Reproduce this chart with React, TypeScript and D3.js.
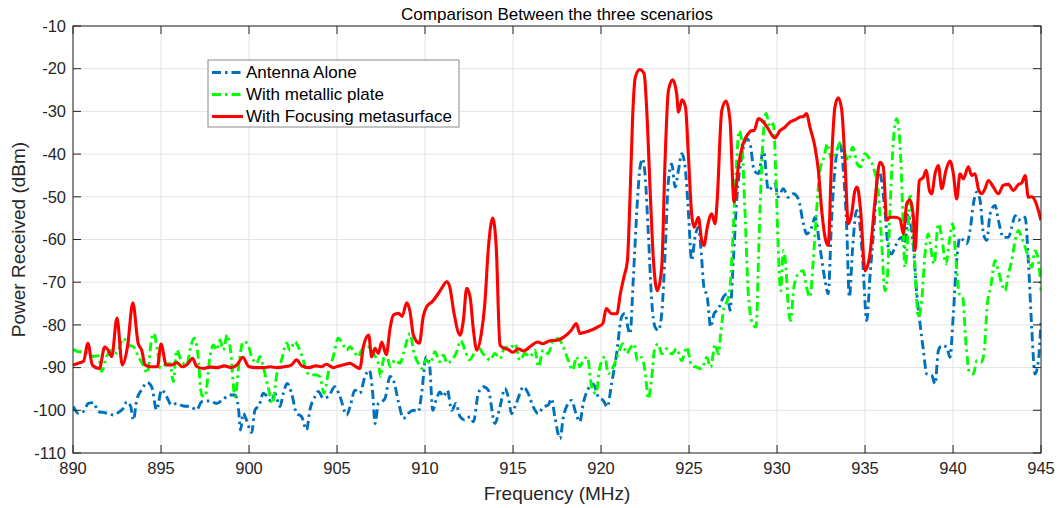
import React from "react";
import * as d3 from "d3";

const xTicks = [890, 895, 900, 905, 910, 915, 920, 925, 930, 935, 940, 945];
const yTicks = [-10, -20, -30, -40, -50, -60, -70, -80, -90, -100, -110];

const antennaAlone: [number, number][] = [[890.02,-99.1],[890.3,-100.7],[890.59,-100.3],[890.87,-98.4],[891.16,-98.2],[891.44,-100.3],[891.72,-100.5],[892.0,-100.7],[892.29,-101.1],[892.58,-100.5],[892.86,-99.5],[893.05,-98],[893.28,-99.1],[893.43,-102.3],[893.62,-97.6],[893.9,-95.2],[894.22,-93.5],[894.47,-94.5],[894.75,-99.9],[895.04,-95.2],[895.32,-96.8],[895.6,-98.8],[895.89,-98.4],[896.27,-99],[896.65,-99.1],[897.03,-99.9],[897.31,-98],[897.78,-97.8],[898.16,-98.4],[898.54,-97.4],[898.92,-96.4],[899.2,-96.4],[899.39,-99.1],[899.52,-104.6],[899.67,-100.7],[899.86,-102.3],[900.15,-105.2],[900.34,-99.9],[900.58,-98.8],[900.81,-96],[901.04,-96.8],[901.28,-98],[901.47,-96],[901.76,-99.1],[901.95,-96],[902.17,-93.7],[902.42,-96],[902.7,-100.7],[902.99,-101.5],[903.27,-104.6],[903.46,-99.9],[903.75,-96.8],[903.94,-95.6],[904.22,-97.2],[904.5,-96.8],[904.88,-94.5],[905.17,-96.8],[905.55,-101.1],[905.74,-99.2],[906.02,-95.3],[906.3,-96],[906.59,-92.1],[906.84,-90.6],[907.03,-96],[907.16,-103.1],[907.35,-98.4],[907.54,-98],[907.73,-97.2],[908.01,-92.1],[908.2,-92.9],[908.49,-98],[908.77,-101.9],[909.05,-100.7],[909.34,-100],[909.62,-100.3],[909.81,-96],[910.06,-87.5],[910.25,-89],[910.44,-100],[910.63,-97.6],[910.85,-95.7],[911.04,-96.8],[911.27,-95.3],[911.52,-100],[911.76,-98.4],[911.99,-101.5],[912.27,-102.3],[912.56,-101.5],[912.75,-102.7],[913.03,-96],[913.32,-94.5],[913.6,-95.3],[913.97,-103.1],[914.26,-99.2],[914.54,-94.9],[914.73,-96.9],[914.92,-100.8],[915.11,-99.2],[915.39,-96.1],[915.58,-94.5],[915.87,-96.1],[916.15,-99.2],[916.44,-100.8],[916.72,-99.2],[917.0,-98.8],[917.19,-97.3],[917.38,-101.6],[917.67,-106.6],[917.86,-101.6],[918.08,-98.8],[918.33,-97.7],[918.58,-100.8],[918.8,-102.7],[918.99,-98.4],[919.28,-94.9],[919.56,-93.8],[919.85,-96.9],[920.13,-97.7],[920.36,-99.2],[920.6,-93.8],[920.89,-86.7],[921.17,-78.1],[921.36,-77.3],[921.55,-81],[921.65,-82.1],[921.84,-68.8],[922.07,-50.9],[922.22,-43],[922.37,-41.1],[922.5,-44.6],[922.69,-58.7],[922.88,-74.3],[923.07,-80.5],[923.26,-81.3],[923.45,-77.4],[923.64,-63.4],[923.83,-46.2],[924.02,-42.3],[924.21,-47.7],[924.4,-43.8],[924.59,-39.9],[924.78,-43],[924.96,-53.2],[925.15,-64.9],[925.34,-59.5],[925.53,-57.1],[925.67,-61.8],[925.85,-71.2],[926.04,-73.5],[926.23,-80.5],[926.42,-77.4],[926.67,-76.3],[926.95,-73.5],[927.18,-72.7],[927.33,-76.6],[927.52,-64.9],[927.71,-50.9],[927.99,-40.7],[928.28,-36.4],[928.47,-37.6],[928.7,-43.8],[928.94,-44.6],[929.23,-39.1],[929.51,-48.5],[929.88,-47],[930.07,-50],[930.36,-48.1],[930.64,-50.1],[930.93,-49.3],[931.21,-50.5],[931.5,-56.3],[931.68,-58.7],[931.97,-57.1],[932.16,-54.8],[932.44,-61.8],[932.73,-69.6],[932.91,-72.7],[933.1,-55.5],[933.39,-39.9],[933.58,-37.6],[933.77,-43.8],[933.96,-57.1],[934.11,-73.5],[934.3,-61.8],[934.52,-53.2],[934.68,-55.5],[934.87,-64.9],[935.1,-79],[935.28,-68.8],[935.51,-57.1],[935.76,-43.8],[935.94,-46.2],[936.13,-53.2],[936.32,-61.8],[936.51,-63.4],[936.7,-61.8],[936.89,-60.2],[937.08,-59.5],[937.27,-61.8],[937.45,-54],[937.56,-55.5],[937.75,-61.8],[937.94,-72.7],[938.13,-79.8],[938.32,-86],[938.51,-91.5],[938.79,-91.8],[938.98,-93.8],[939.17,-86],[939.36,-84.8],[939.64,-85.2],[939.83,-87.6],[940.02,-77.4],[940.21,-64.9],[940.4,-59.5],[940.59,-60.2],[940.78,-61],[940.97,-57.9],[941.16,-51.6],[941.35,-48.9],[941.54,-50.9],[941.73,-58.7],[941.92,-60.2],[942.11,-54],[942.39,-52],[942.58,-55.5],[942.86,-59.5],[943.15,-59.5],[943.34,-57.1],[943.53,-54.4],[943.72,-55.5],[943.9,-54.8],[944.1,-54.8],[944.28,-64.9],[944.47,-80.5],[944.66,-91.5],[944.85,-88.4],[945.0,-79]];

const metallicPlate: [number, number][] = [[890.02,-85.7],[890.3,-86.3],[890.59,-86.3],[890.87,-86.6],[891.16,-87.4],[891.44,-87.2],[891.63,-90.9],[891.91,-87.4],[892.2,-85.9],[892.48,-86.6],[892.86,-83.1],[893.14,-84.7],[893.43,-85.1],[893.71,-87.4],[893.99,-89.4],[894.22,-91.3],[894.47,-83.1],[894.6,-82],[894.79,-85.9],[894.98,-90.2],[895.23,-89.4],[895.51,-89],[895.7,-93.3],[895.89,-85.9],[896.17,-88.6],[896.46,-89.4],[896.69,-85.1],[896.88,-83.1],[897.07,-85.9],[897.31,-96.4],[897.5,-96.8],[897.78,-87.6],[897.97,-84.7],[898.16,-85.9],[898.35,-83.5],[898.54,-85.9],[898.76,-82.3],[898.95,-85.9],[899.2,-96.8],[899.48,-87.4],[899.67,-83.9],[899.9,-84.3],[900.15,-87.4],[900.43,-89],[900.62,-87.4],[900.81,-89.8],[901.1,-94.8],[901.34,-98.4],[901.57,-91.8],[901.85,-88.2],[902.14,-84.3],[902.33,-85.9],[902.61,-83.9],[902.8,-85.1],[903.08,-88.2],[903.27,-90.9],[903.46,-91.7],[903.75,-91.7],[904.03,-92.1],[904.26,-96],[904.5,-91.3],[904.79,-87.4],[905.07,-83.1],[905.26,-83.9],[905.55,-85.9],[905.74,-85.1],[905.97,-86.3],[906.21,-87.5],[906.4,-85.9],[906.65,-85.5],[906.88,-85.1],[907.07,-86.7],[907.35,-89],[907.48,-92.1],[907.63,-88.2],[907.82,-86.7],[908.01,-89.8],[908.3,-88.2],[908.58,-89],[908.87,-85.1],[909.15,-82],[909.38,-86.7],[909.62,-89],[909.81,-90.2],[910.06,-88.2],[910.29,-89],[910.57,-86.3],[910.82,-88.6],[911.04,-87.1],[911.27,-89],[911.52,-88.2],[911.76,-86.7],[912.03,-83.7],[912.27,-85.9],[912.52,-88.2],[912.79,-86.7],[913.03,-85.1],[913.28,-86.7],[913.5,-87.5],[913.69,-88.3],[913.97,-86.7],[914.26,-87.9],[914.54,-85.2],[914.83,-85.5],[915.11,-84.4],[915.39,-88.3],[915.68,-86.7],[915.96,-87.5],[916.25,-85.9],[916.44,-89.8],[916.72,-85.9],[917.0,-86.7],[917.29,-83.6],[917.57,-83.2],[917.86,-85.2],[918.14,-88.3],[918.39,-90.6],[918.61,-87.5],[918.8,-89.8],[918.99,-88.3],[919.22,-87.5],[919.47,-94.5],[919.71,-96.1],[919.94,-89.8],[920.22,-87.5],[920.41,-91.4],[920.7,-89.8],[920.98,-86.7],[921.23,-84.4],[921.46,-86.7],[921.65,-85.5],[921.88,-84.5],[922.07,-88.4],[922.31,-87.6],[922.5,-90.7],[922.69,-97.3],[922.88,-92.3],[923.07,-85.2],[923.26,-84.5],[923.45,-86.8],[923.73,-85.6],[924.02,-86.8],[924.3,-85.6],[924.59,-88.4],[924.87,-85.2],[925.15,-89.5],[925.44,-89.9],[925.72,-90.3],[926.01,-87.6],[926.23,-89.9],[926.48,-84.5],[926.67,-86.8],[926.8,-82.1],[926.99,-75.9],[927.18,-74.3],[927.33,-71.2],[927.52,-57.1],[927.71,-41.5],[927.84,-34.5],[927.99,-36.8],[928.18,-53.2],[928.37,-72.7],[928.62,-79.8],[928.81,-80.5],[929.0,-57.1],[929.19,-37.6],[929.38,-30.5],[929.6,-33.7],[929.79,-32.9],[929.94,-45.4],[930.07,-61.8],[930.21,-72],[930.36,-62.6],[930.51,-66.5],[930.64,-75.9],[930.77,-79],[930.96,-71.2],[931.21,-68],[931.49,-67.3],[931.68,-71.2],[931.87,-73.5],[932.06,-64.9],[932.25,-53.2],[932.44,-43.8],[932.67,-40.7],[932.86,-37.6],[933.1,-41.5],[933.39,-39.1],[933.62,-37.2],[933.86,-39.9],[934.05,-41.5],[934.3,-38.4],[934.56,-42.3],[934.75,-43],[935.0,-39.9],[935.19,-40.7],[935.47,-43],[935.76,-49.3],[935.94,-60.2],[936.13,-72],[936.27,-68.8],[936.42,-53.2],[936.6,-37.6],[936.8,-31.7],[936.99,-37.6],[937.14,-53.2],[937.27,-66.5],[937.46,-57.1],[937.56,-49.3],[937.71,-55.5],[937.84,-66.5],[938.03,-78.2],[938.22,-74.3],[938.41,-63.4],[938.6,-58.7],[938.73,-61.8],[938.92,-65.7],[939.17,-56.3],[939.36,-59.5],[939.6,-65.7],[939.8,-60.2],[939.98,-56.3],[940.17,-64.9],[940.36,-72.7],[940.55,-73.5],[940.74,-84.5],[940.93,-91.1],[941.16,-91.5],[941.35,-88.4],[941.58,-88.8],[941.76,-86.8],[941.95,-75.1],[942.14,-71.2],[942.39,-64.9],[942.58,-67.3],[942.77,-70.4],[942.96,-72],[943.15,-68],[943.34,-64.9],[943.53,-60.2],[943.72,-57.9],[943.9,-59.5],[944.1,-61.8],[944.28,-64.1],[944.47,-66.5],[944.66,-62.6],[944.85,-64.9],[945.0,-72]];

const focusingMetasurface: [number, number][] = [[890.0,-89.4],[890.3,-89],[890.6,-88.5],[890.85,-84.3],[891.1,-89.4],[891.5,-90.2],[891.8,-85.2],[892.0,-85.9],[892.2,-87.4],[892.5,-78.4],[892.8,-89.4],[893.1,-85],[893.4,-74.8],[893.7,-84.3],[893.9,-85.9],[894.1,-89.4],[894.4,-89.8],[894.8,-89.8],[895.0,-84.5],[895.3,-89.4],[895.6,-89.4],[895.9,-88.8],[896.2,-89.8],[896.5,-89.2],[896.8,-87.8],[897.0,-89.6],[897.4,-90.2],[897.8,-89.9],[898.2,-90],[898.6,-89.6],[899.0,-90],[899.3,-89.4],[899.65,-87.6],[900.0,-89.8],[900.4,-90],[900.8,-90],[901.2,-89.8],[901.6,-90],[902.0,-89.8],[902.4,-89.4],[902.7,-88.2],[903.0,-89.6],[903.4,-90],[903.8,-89.6],[904.1,-89.8],[904.4,-89.2],[904.8,-90],[905.1,-89.6],[905.5,-89.2],[905.74,-89],[906.0,-89.6],[906.3,-90.2],[906.5,-85.1],[906.8,-82.4],[906.97,-87.5],[907.16,-85.5],[907.35,-86.7],[907.54,-84],[907.8,-87],[908.0,-81.2],[908.2,-77.7],[908.5,-77.3],[908.7,-78],[908.96,-74.8],[909.15,-76.9],[909.34,-82.4],[909.68,-84.3],[909.9,-78],[910.1,-75.7],[910.4,-74.6],[910.7,-73],[910.95,-71.4],[911.23,-69.9],[911.4,-71],[911.65,-77.3],[911.99,-82.4],[912.18,-78.9],[912.37,-71.4],[912.56,-73.4],[912.75,-81.2],[912.94,-85.9],[913.2,-82],[913.4,-75],[913.6,-62],[913.85,-55],[914.05,-62],[914.26,-84.7],[914.5,-85.5],[914.7,-85.7],[915.0,-86.4],[915.3,-85.6],[915.6,-86.1],[916.0,-85],[916.4,-84],[916.7,-84.4],[917.1,-83.7],[917.5,-83.6],[917.9,-82.8],[918.3,-81.3],[918.6,-79.7],[918.8,-82],[919.1,-81.7],[919.4,-81.3],[919.8,-80.5],[920.1,-79.7],[920.3,-76.2],[920.6,-77.4],[920.9,-77.4],[921.1,-72.7],[921.3,-68.8],[921.5,-65],[921.65,-50],[921.8,-31],[921.95,-22],[922.2,-20.2],[922.45,-21.2],[922.6,-29.8],[922.8,-49.3],[922.98,-64.9],[923.2,-72],[923.45,-66.5],[923.64,-41.5],[923.83,-25.1],[924.07,-22.6],[924.3,-25.9],[924.4,-30.2],[924.6,-27.3],[924.8,-29],[924.96,-39.9],[925.15,-54],[925.29,-57.1],[925.53,-54.8],[925.72,-60.2],[925.85,-61.4],[926.04,-57.1],[926.29,-54],[926.48,-56.3],[926.6,-50.9],[926.86,-29.8],[927.1,-27.6],[927.33,-32.1],[927.56,-51.2],[927.8,-43],[928.09,-37.4],[928.37,-35.2],[928.56,-34.5],[928.7,-34.5],[928.94,-31.7],[929.23,-32.5],[929.5,-34.1],[929.88,-36.2],[930.17,-34.5],[930.45,-33.7],[930.74,-32.5],[931.02,-32],[931.3,-31.3],[931.5,-31.2],[931.68,-30.5],[931.87,-33.7],[932.16,-38.4],[932.35,-43.8],[932.54,-53.2],[932.73,-59.5],[932.91,-61.4],[933.1,-41.5],[933.29,-29],[933.48,-26.8],[933.67,-29.4],[933.86,-41.5],[934.05,-56.3],[934.24,-54],[934.43,-48.5],[934.56,-47.7],[934.75,-53.2],[935.0,-67.3],[935.28,-63.4],[935.57,-50.9],[935.85,-41.9],[936.04,-43],[936.23,-55.5],[936.42,-54.8],[936.7,-54.8],[936.99,-55.2],[937.18,-58.7],[937.37,-51.6],[937.55,-50.7],[937.75,-54.8],[937.84,-62.6],[937.98,-53.2],[938.09,-46.2],[938.32,-45.4],[938.47,-43.8],[938.66,-48.5],[938.79,-49.3],[938.98,-44.6],[939.17,-42.7],[939.36,-48.1],[939.6,-43.8],[939.83,-41.6],[940.02,-44.6],[940.21,-50.5],[940.4,-44.6],[940.59,-45.8],[940.87,-43],[941.06,-45],[941.25,-44.6],[941.44,-48.1],[941.63,-49.3],[941.82,-48.1],[942.01,-46.2],[942.29,-47.7],[942.58,-49.3],[942.86,-47.3],[943.15,-47.1],[943.43,-48.5],[943.72,-47.1],[943.9,-46.8],[944.1,-45],[944.28,-50.1],[944.47,-50],[944.66,-50.9],[944.85,-53.2],[945.0,-55.5]];

const seriesNames = ["Antenna Alone", "With metallic plate", "With Focusing metasurface"];
const seriesColors = ["#0072BD", "#00FF00", "#FF0000"];

export default function App() {
  const W = 1061, H = 508;
  const L = 73, R = 1041, T = 26, B = 453;
  const x = d3.scaleLinear().domain([890, 945]).range([L, R]);
  const y = d3.scaleLinear().domain([-110, -10]).range([B, T]);
  const line = d3.line<[number, number]>().x(d => x(d[0])).y(d => y(d[1])).curve(d3.curveMonotoneX);
  const font = "'Liberation Sans', Arial, Helvetica, sans-serif";
  const axisColor = "#262626";
  const gridColor = "#e3e3e3";
  const tickLen = 8;
  const data = [antennaAlone, metallicPlate, focusingMetasurface];
  const dashes = ["9,4,2.5,4", "9,4,2.5,4", ""];
  const widths = [2.9, 2.9, 3.1];

  return (
    <svg width={W} height={H} style={{ position: "absolute", left: 0, top: 0, background: "#fff" }}>
      <defs>
        <clipPath id="plotclip">
          <rect x={L} y={T} width={R - L} height={B - T} />
        </clipPath>
      </defs>
      <rect x={0} y={0} width={W} height={H} fill="#fff" />
      {xTicks.map(t => (
        <line key={"gx" + t} x1={x(t)} x2={x(t)} y1={T} y2={B} stroke={gridColor} strokeWidth={1} />
      ))}
      {yTicks.map(t => (
        <line key={"gy" + t} x1={L} x2={R} y1={y(t)} y2={y(t)} stroke={gridColor} strokeWidth={1} />
      ))}
      <g clipPath="url(#plotclip)">
        {data.map((d, i) => (
          <path key={i} d={line(d) || ""} fill="none" stroke={seriesColors[i]} strokeWidth={widths[i]}
            strokeDasharray={dashes[i] || undefined} strokeLinejoin="round" />
        ))}
      </g>
      <rect x={L} y={T} width={R - L} height={B - T} fill="none" stroke={axisColor} strokeWidth={1} />
      {xTicks.map(t => (
        <g key={"tx" + t}>
          <line x1={x(t)} x2={x(t)} y1={B} y2={B - tickLen} stroke={axisColor} />
          <line x1={x(t)} x2={x(t)} y1={T} y2={T + tickLen} stroke={axisColor} />
          <text x={x(t)} y={474} textAnchor="middle" fontFamily={font} fontSize={16.5} fill={axisColor}>{t}</text>
        </g>
      ))}
      {yTicks.map(t => (
        <g key={"ty" + t}>
          <line x1={L} x2={L + tickLen} y1={y(t)} y2={y(t)} stroke={axisColor} />
          <line x1={R} x2={R - tickLen} y1={y(t)} y2={y(t)} stroke={axisColor} />
          <text x={66} y={y(t)} dy="0.35em" textAnchor="end" fontFamily={font} fontSize={16.5} fill={axisColor}>{t}</text>
        </g>
      ))}
      <text x={(L + R) / 2} y={20} textAnchor="middle" fontFamily={font} fontSize={17} fill="#000">Comparison Between the three scenarios</text>
      <text x={(L + R) / 2} y={500} textAnchor="middle" fontFamily={font} fontSize={19} fill={axisColor}>Frequency (MHz)</text>
      <text transform={`translate(25,${(T + B) / 2}) rotate(-90)`} textAnchor="middle" fontFamily={font} fontSize={19} fill={axisColor}>Power Received (dBm)</text>
      <g>
        <rect x={208} y={60} width={251} height={67} fill="#fff" stroke="#8a8a8a" strokeWidth={1} />
        {seriesNames.map((n, i) => (
          <g key={n}>
            <line x1={212} x2={243} y1={72.5 + i * 22} y2={72.5 + i * 22} stroke={seriesColors[i]} strokeWidth={widths[i]}
              strokeDasharray={dashes[i] || undefined} />
            <text x={246} y={72.5 + i * 22} dy="0.35em" fontFamily={font} fontSize={17} fill="#000">{n}</text>
          </g>
        ))}
      </g>
    </svg>
  );
}
